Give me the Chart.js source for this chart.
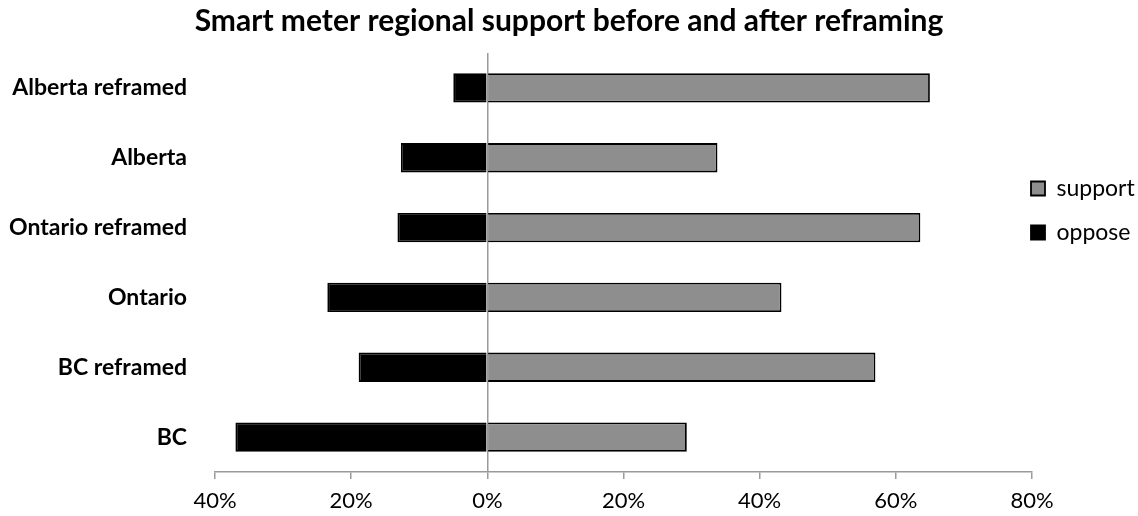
<!DOCTYPE html>
<html>
<head>
<meta charset="utf-8">
<script src="https://cdn.jsdelivr.net/npm/chart.js@4.4.1/dist/chart.umd.min.js"></script>
<style>
  body { margin: 0; background: #fff; }
  #wrap { width: 1138px; height: 516px; }
</style>
</head>
<body>
<div id="wrap"><canvas id="meterChart"></canvas></div>
<script>
// categories, top to bottom
const regions = ['Alberta reframed', 'Alberta', 'Ontario reframed', 'Ontario', 'BC reframed', 'BC'];
// percent of respondents
const supportVals = [65.0, 33.8, 63.6, 43.2, 57.0, 29.3];
const opposeVals = [-5.0, -12.7, -13.2, -23.5, -18.9, -37.0];
const xTicks = [-40, -20, 0, 20, 40, 60, 80];

Chart.defaults.font.family = "Lato, 'Open Sans', sans-serif";
Chart.defaults.color = '#000';

// move the legend next to the plot, like the original
const legendNudge = {
  id: 'legendNudge',
  afterLayout(chart) {
    const lg = chart.legend;
    const pad = lg.options.labels.padding;
    lg.left = chart.chartArea.right - 1 - pad;
    lg.top = chart.chartArea.top + 124 - pad;
  }
};

const ctx = document.getElementById('meterChart').getContext('2d');
new Chart(ctx, {
  type: 'bar',
  data: {
    labels: regions,
    datasets: [{
      label: 'support',
      data: supportVals,
      backgroundColor: '#8e8e8e',
      borderColor: '#000',
      borderWidth: 1.8
    }, {
      label: 'oppose',
      data: opposeVals,
      backgroundColor: '#000',
      borderColor: '#000',
      borderWidth: 1.8
    }]
  },
  options: {
    indexAxis: 'y',
    responsive: true,
    maintainAspectRatio: false,
    animation: false,
    barPercentage: 0.42,
    categoryPercentage: 1,
    layout: { padding: 0 },
    plugins: {
      title: {
        display: true,
        text: 'Smart meter regional support before and after reframing',
        font: { size: 30, weight: 'bold' },
        padding: { top: 3, bottom: 14 }
      },
      legend: {
        position: 'right',
        align: 'start',
        maxWidth: 106,
        labels: {
          boxWidth: 14,
          boxHeight: 14,
          padding: 21,
          font: { size: 23 }
        }
      },
      tooltip: { enabled: false }
    },
    scales: {
      x: {
        stacked: true,
        min: -40,
        max: 80,
        afterBuildTicks: scale => { scale.ticks = xTicks.map(v => ({ value: v })); },
        afterFit: scale => { scale.height = 44; },
        ticks: {
          font: { size: 22 },
          padding: 9,
          callback: v => Math.abs(v) + '%'
        },
        grid: {
          color: c => (c.tick && c.tick.value === 0) ? '#9a9a9a' : 'rgba(0,0,0,0)',
          tickColor: '#9a9a9a',
          tickLength: 7,
          lineWidth: 1.5
        },
        border: { display: true, color: '#9a9a9a', width: 1.5 }
      },
      y: {
        stacked: true,
        afterFit: scale => { scale.width = 215; },
        ticks: {
          font: { size: 23, weight: 'bold' },
          padding: 20
        },
        grid: { display: false },
        border: { display: false }
      }
    }
  },
  plugins: [legendNudge]
});
</script>
</body>
</html>
